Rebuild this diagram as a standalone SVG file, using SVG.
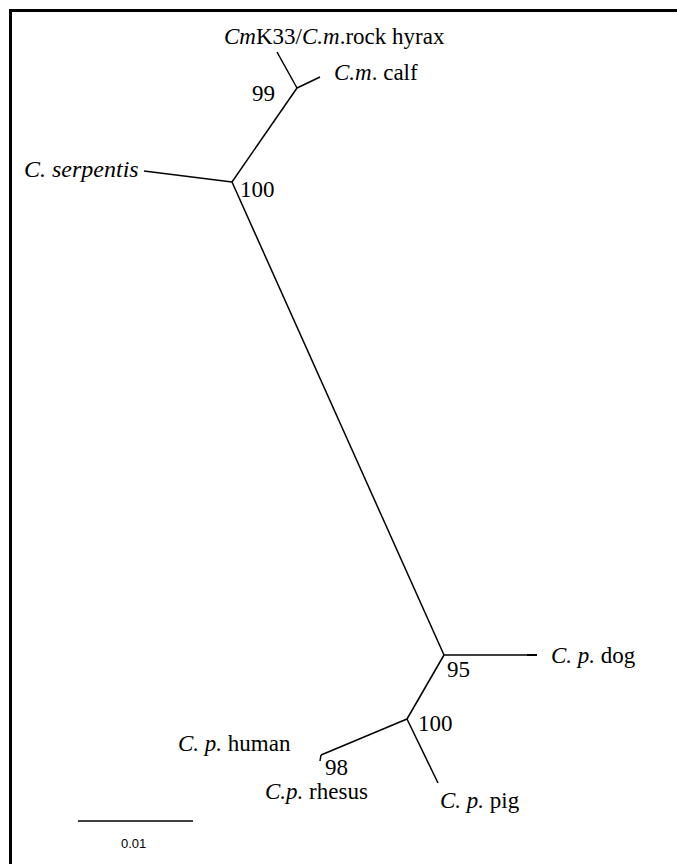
<svg xmlns="http://www.w3.org/2000/svg" width="677" height="864" viewBox="0 0 677 864">
<style>
.t{font-family:"Liberation Serif","Times New Roman","DejaVu Serif",serif;font-size:23px;fill:#000}
.i{font-style:italic}
.b{stroke:#000;stroke-width:1.5;fill:none}
.s{font-family:"Liberation Sans",Arial,sans-serif;font-size:13px;fill:#000}
</style>
<rect x="0" y="0" width="677" height="864" fill="#fff"/>
<path d="M10.5,864 V10.5 H690" stroke="#000" stroke-width="3" fill="none"/>
<g id="connectors">
<line class="b" x1="297" y1="88" x2="277" y2="52"/>
<line class="b" x1="297" y1="88" x2="320" y2="77"/>
<line class="b" x1="297" y1="88" x2="232" y2="182"/>
<line class="b" x1="232" y1="182" x2="144" y2="171"/>
<line class="b" x1="232" y1="182" x2="444" y2="655"/>
<line class="b" x1="444" y1="655" x2="537" y2="655"/>
<line stroke="#000" stroke-width="2" x1="527" y1="655" x2="537" y2="655"/>
<line class="b" x1="444" y1="655" x2="407" y2="719"/>
<line class="b" x1="407" y1="719" x2="321" y2="755"/>
<line class="b" x1="321" y1="755" x2="320" y2="761"/>
<line class="b" x1="407" y1="719" x2="438" y2="783"/>
<line class="b" x1="78" y1="821" x2="193" y2="821"/>
</g>
<g id="hyrax"><text class="t" x="224" y="44"><tspan class="i">Cm</tspan>K33/<tspan class="i">C.m</tspan>.rock hyrax</text></g>
<g id="calf"><text class="t" x="334" y="80"><tspan class="i">C.m</tspan>. calf</text></g>
<g id="n99"><text class="t" x="252" y="101">99</text></g>
<g id="serpentis"><text class="t i" x="24" y="177" style="font-size:24px">C. serpentis</text></g>
<g id="n100a"><text class="t" x="240" y="197">100</text></g>
<g id="dog"><text class="t" x="551" y="663"><tspan class="i">C. p.</tspan> dog</text></g>
<g id="n95"><text class="t" x="447" y="677">95</text></g>
<g id="n100b"><text class="t" x="418" y="731">100</text></g>
<g id="human"><text class="t" x="178" y="751"><tspan class="i">C. p.</tspan> human</text></g>
<g id="n98"><text class="t" x="325" y="775">98</text></g>
<g id="rhesus"><text class="t" x="265" y="799"><tspan class="i">C.p.</tspan> rhesus</text></g>
<g id="pig"><text class="t" x="440" y="808"><tspan class="i">C. p.</tspan> pig</text></g>
<g id="scale"><text class="s" x="121" y="848">0.01</text></g>
</svg>
